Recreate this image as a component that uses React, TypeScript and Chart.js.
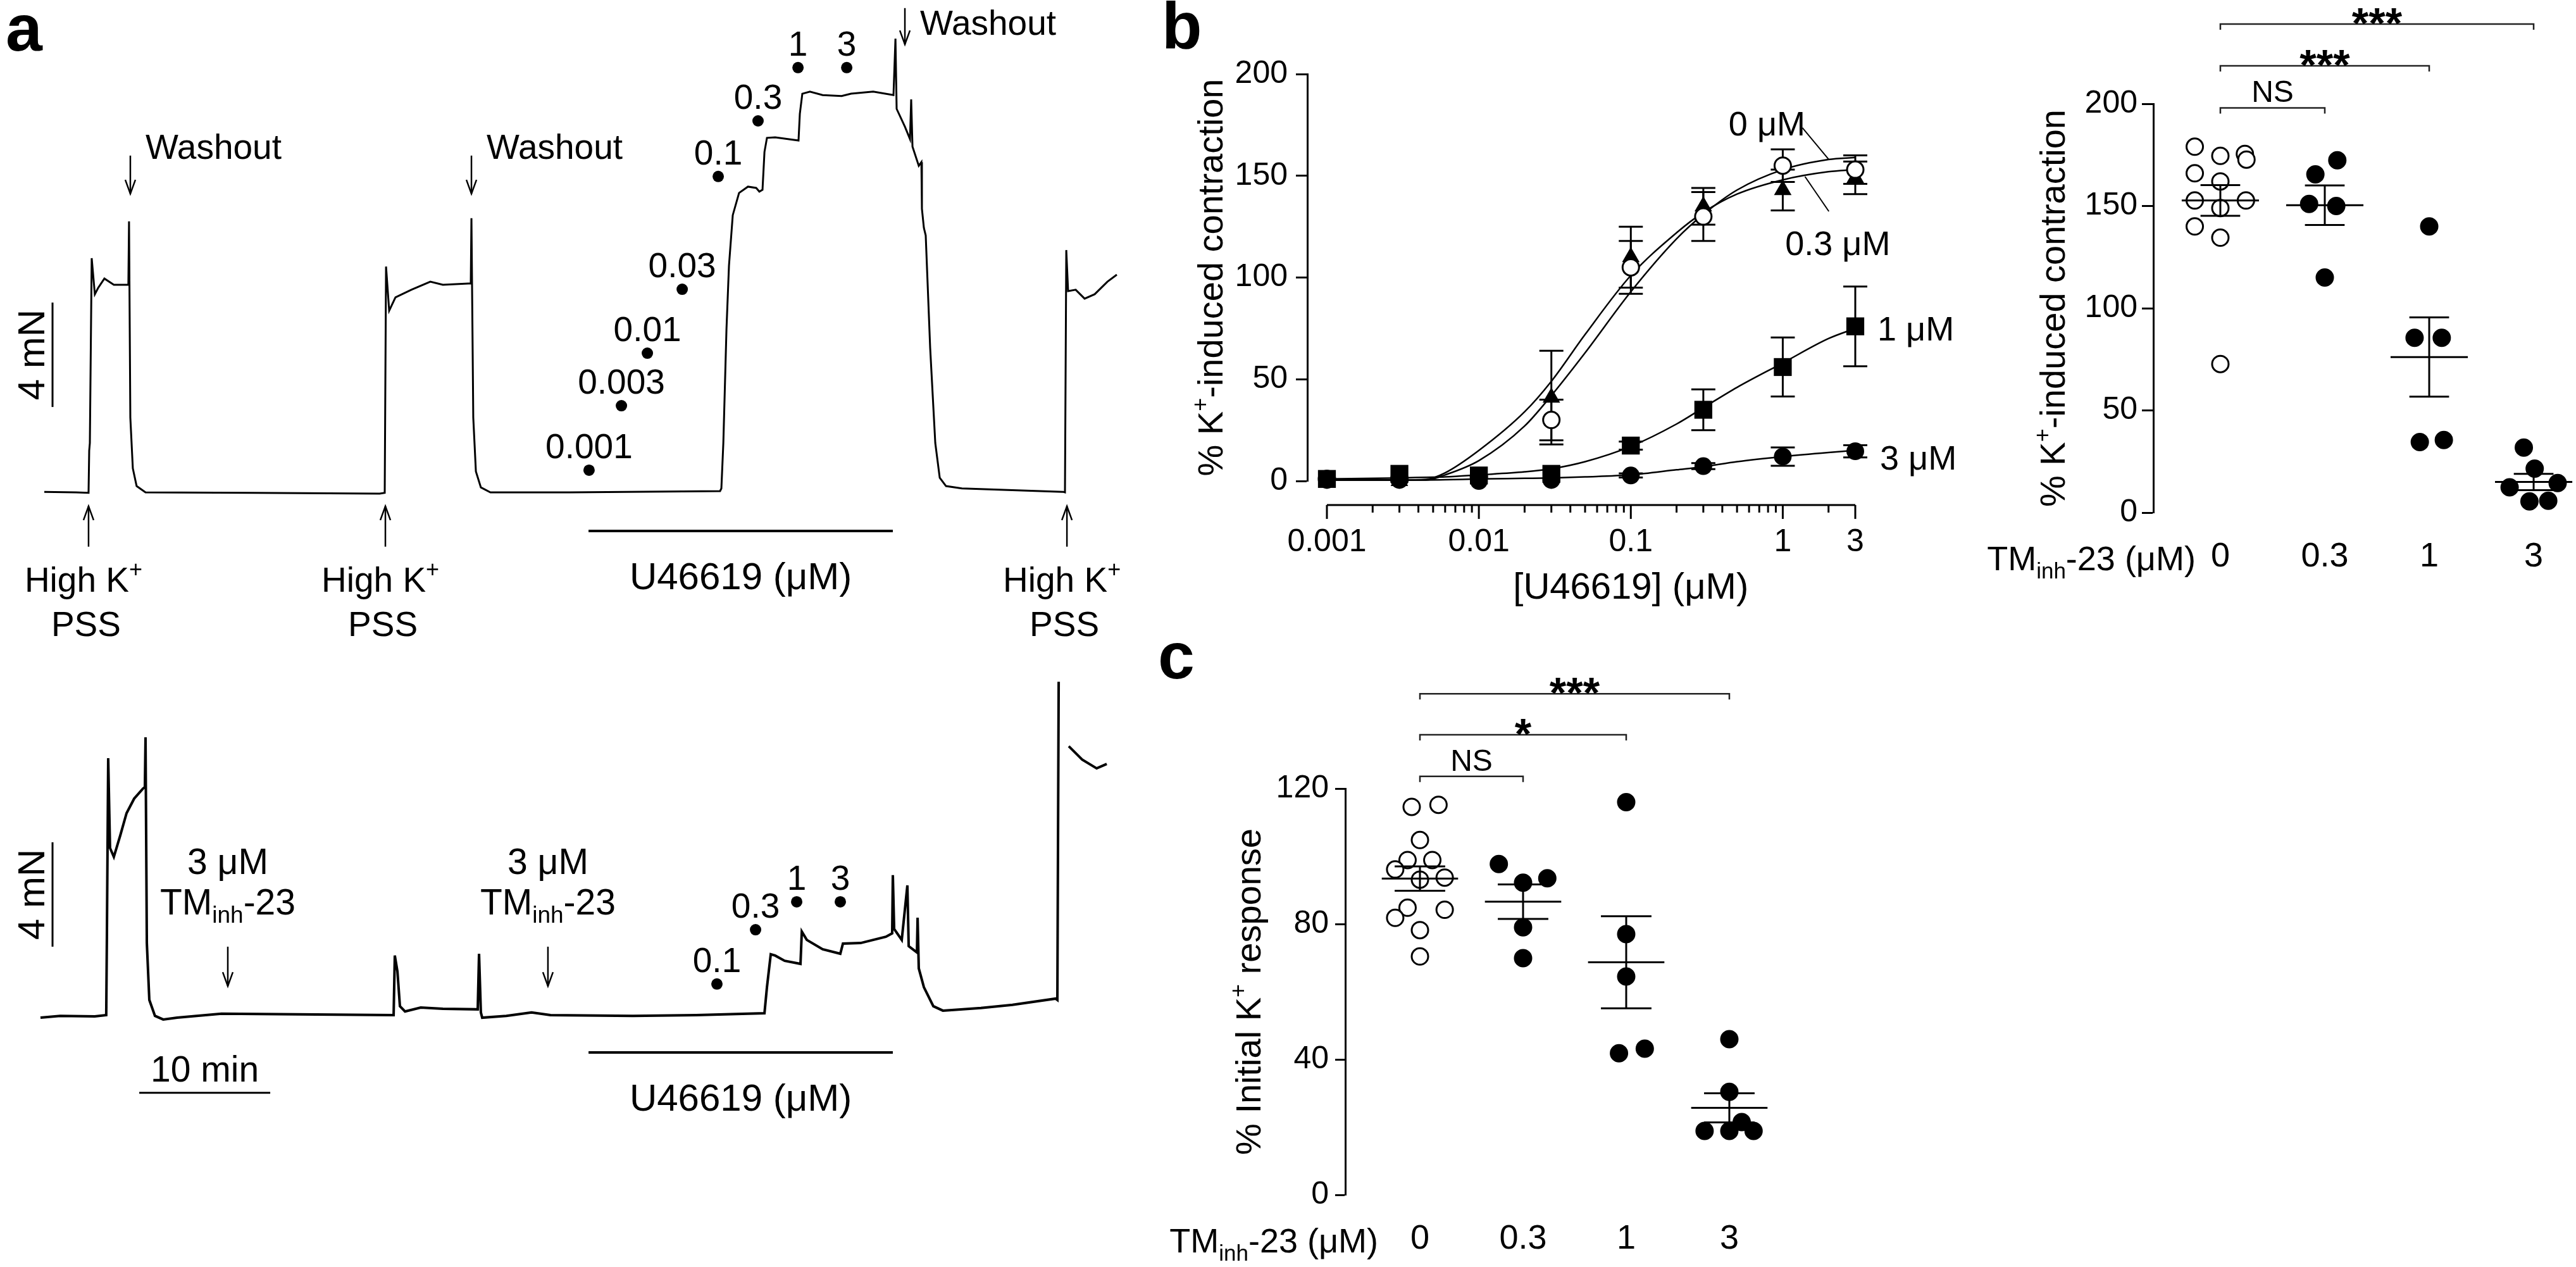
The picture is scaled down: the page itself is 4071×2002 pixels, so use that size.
import React, { useEffect, useRef } from 'react';
import { Chart, registerables } from 'chart.js';

Chart.register(...registerables);

const FONT = '"Liberation Sans", Arial, Helvetica, sans-serif';
const BLACK = '#000000';

/* ================= Panel a : tension traces (time in min, tension in mN) ================= */
const TRACE1_TIME = [0.29, 2.71, 3.67, 3.72, 3.77, 3.91, 4.15, 4.40, 4.88, 5.60, 6.71, 6.76, 6.86, 7.05, 7.34, 8.02, 16.23, 25.89, 26.28, 26.38, 26.62, 27.10, 28.31, 29.76, 30.72, 32.66, 32.85, 32.90, 33.04, 33.24, 33.62, 34.35, 40.39, 51.88, 51.98, 52.13, 52.37, 52.56, 52.85, 53.33, 54.01, 54.64, 54.88, 55.12, 55.27, 55.46, 56.09, 57.87, 57.97, 58.16, 58.74, 59.71, 61.16, 61.88, 63.57, 65.12, 65.27, 65.36, 65.99, 66.38, 66.47, 66.57, 67.05, 67.25, 67.29, 67.44, 67.58, 67.92, 68.31, 68.65, 69.13, 70.34, 78.07, 78.21, 78.31, 78.45, 79.03, 79.71, 80.48, 81.45, 82.17];
const TRACE1_MN = [0.02, 0, -0.02, 1.6, 1.89, 8.97, 7.59, 7.83, 8.19, 7.95, 7.95, 10.38, 2.86, 0.92, 0.24, 0, -0.02, -0.05, -0.02, 8.65, 6.96, 7.47, 7.76, 8.07, 7.95, 8.0, 8.0, 10.5, 2.86, 0.8, 0.19, 0, 0, 0.05, 0.15, 1.89, 6.26, 8.68, 10.62, 11.47, 11.71, 11.66, 11.52, 11.59, 13.04, 13.58, 13.6, 13.48, 14.5, 15.27, 15.35, 15.22, 15.18, 15.27, 15.35, 15.22, 17.38, 14.69, 14.01, 13.53, 15.05, 13.24, 12.51, 12.65, 10.86, 10.13, 9.84, 5.53, 1.89, 0.56, 0.24, 0.15, 0.02, 0, 9.28, 7.71, 7.76, 7.42, 7.59, 8.07, 8.34];
const DOSE1_LABELS = ['0.001', '0.003', '0.01', '0.03', '0.1', '0.3', '1', '3'];
const DOSE1_TIME = [41.88, 44.35, 46.33, 48.99, 51.74, 54.78, 57.83, 61.55];
const DOSE1_MN = [0.85, 3.32, 5.33, 7.78, 12.1, 14.23, 16.27, 16.27];

const TRACE2_TIME = [0, 1.5, 4.15, 5.02, 5.07, 5.17, 5.31, 5.6, 6.09, 6.57, 7.15, 7.83, 7.97, 8.02, 8.12, 8.31, 8.74, 9.37, 10.43, 13.82, 21.06, 26.96, 27.05, 27.25, 27.44, 27.83, 29.03, 30.72, 33.38, 33.48, 33.62, 33.72, 35.56, 37.49, 38.94, 45.22, 50.05, 55.27, 55.46, 55.75, 56.09, 56.81, 58.02, 58.12, 58.5, 59.71, 61.06, 61.26, 62.61, 64.54, 65.02, 65.07, 65.17, 65.75, 66.18, 66.28, 66.91, 66.96, 67.05, 67.44, 68.16, 68.89, 71.79, 74.2, 77.49, 77.63, 77.73, 78.1, 78.5, 79.52, 80.63, 81.4];
const TRACE2_MN = [-0.05, 0.02, 0, 0.05, 3.05, 9.89, 6.45, 6.11, 6.93, 7.78, 8.34, 8.73, 8.78, 10.69, 2.81, 0.63, 0.02, -0.12, -0.05, 0.1, 0.07, 0.05, 2.33, 1.72, 0.39, 0.19, 0.34, 0.29, 0.27, 2.4, 0.15, -0.05, 0.02, 0.15, 0.05, 0.02, 0.05, 0.12, 1.12, 2.38, 2.33, 2.13, 2.01, 3.25, 2.93, 2.57, 2.4, 2.79, 2.81, 3.05, 3.18, 5.41, 3.35, 2.93, 5.02, 2.69, 2.45, 3.78, 1.84, 1.12, 0.39, 0.22, 0.32, 0.44, 0.68, 0.63, 12.82, null, 10.35, 9.84, 9.5, 9.67];
const DOSE2_LABELS = ['0.1', '0.3', '1', '3'];
const DOSE2_TIME = [51.64, 54.59, 57.73, 61.06];
const DOSE2_MN = [1.24, 3.32, 4.39, 4.39];

const HIGHK_TIME = [3.67, 26.33, 78.36];
const WASHOUT_TIME = [6.86, 32.9, 65.99];
const TM_ADD_TIME = [14.3, 38.74];
const U46619_START = 41.84;
const U46619_END = 65.07;
const SCALE_MN = 4;
const SCALE_MIN = 10;

/* ================= Panel b (left): concentration–response ================= */
const B_CONC = [0.001, 0.003, 0.01, 0.03, 0.1, 0.3, 1, 3];
const B_TICKS = [0.001, 0.01, 0.1, 1, 3];
const B_TICK_LABELS = ['0.001', '0.01', '0.1', '1', '3'];
const B_MEAN_0 = [1, 1, 2, 30, 105, 130, 155, 153];
const B_SEM_0 = [0, 0, 0, 10, 13, 12, 8, 7];
const B_MEAN_03 = [0, 0, 1, 41, 110, 135, 143, 149];
const B_SEM_03 = [0, 0, 0, 23, 15, 9, 10, 8];
const B_MEAN_1 = [1, 3.5, 2.7, 3.5, 17.4, 35, 56, 76];
const B_SEM_1 = [0, 0, 0, 0, 2, 10, 14.5, 19.6];
const B_MEAN_3 = [0.5, 0.5, 0, 0.5, 2.7, 7.3, 12, 14.6];
const B_SEM_3 = [0, 0, 0, 0, 1, 1.5, 4.5, 3];
const FIT_X = [0.001, 0.003, 0.0045, 0.006, 0.01, 0.02, 0.03, 0.05, 0.1, 0.2, 0.3, 0.5, 1, 2, 3];
const FIT_0 = [0.5, 0.5, 0.5, 3, 10, 27, 42, 63, 93, 119, 131, 143, 153, 158, 159];
const FIT_03 = [0.5, 0.5, 0.8, 4, 15, 34, 49, 72, 101, 122, 132, 141, 148, 152, 153];
const FIT_1 = [1, 1.5, 1.8, 2, 3, 4.5, 6, 9.5, 17, 28, 36, 46, 58, 70, 75];
const FIT_3 = [0.5, 0.5, 0.5, 0.6, 1, 1.3, 1.5, 2, 3, 5.5, 7, 9.5, 12, 14, 15];

/* ================= Panel b (right) and c : individual vessels ================= */
const TM_DOSES = ['0', '0.3', '1', '3'];
const B2_VALUES = [
  [179, 174.5, 175.5, 172.7, 166, 162, 152.7, 149, 152.7, 140, 134.5, 72.7],
  [165.5, 172.4, 151, 150, 115],
  [140, 85.5, 85.5, 34.5, 35.5],
  [31.8, 21.5, 12.4, 14.5, 5.5, 5.8],
];
const B2_JITTER = [
  [-0.245, 0, 0.235, 0.25, -0.245, 0, -0.245, 0, 0.245, -0.245, 0, 0],
  [-0.09, 0.12, -0.15, 0.11, 0],
  [0, -0.14, 0.12, -0.09, 0.14],
  [-0.094, 0.01, -0.23, 0.23, -0.04, 0.14],
];
const B2_MEAN = [152.7, 150.4, 76.1, 15];
const B2_SEM = [7.5, 9.7, 19.4, 4];
const B2_BRACKETS = [
  { from: 0, to: 1, y: 198, label: 'NS' },
  { from: 0, to: 2, y: 218.6, label: '***' },
  { from: 0, to: 3, y: 239, label: '***' },
];

const C_VALUES = [
  [114.6, 115.2, 104.8, 98.9, 98.9, 96.1, 93.1, 93.7, 84.8, 84.2, 81.8, 78.2, 70.4],
  [97.7, 92.2, 93.5, 79, 69.9],
  [116, 77, 64.5, 41.8, 43.2],
  [46, 30.4, 18.9, 18.9, 21.5, 18.9],
];
const C_JITTER = [
  [-0.08, 0.18, 0, -0.12, 0.12, -0.24, 0, 0.24, -0.12, 0.24, -0.24, 0, 0],
  [-0.235, 0, 0.235, 0, 0],
  [0, 0, 0, -0.07, 0.18],
  [0, 0, -0.24, 0, 0.12, 0.235],
];
const C_MEAN = [93.4, 86.6, 68.7, 25.7];
const C_SEM = [3.6, 5.1, 13.6, 4.3];
const C_BRACKETS = [
  { from: 0, to: 1, y: 123.6, label: 'NS' },
  { from: 0, to: 2, y: 135.9, label: '*' },
  { from: 0, to: 3, y: 148, label: '***' },
];

/* ================= drawing helpers ================= */
type Seg = { t: string; v?: 'sup' | 'sub' };
function segFont(fs: number, v?: string) {
  return `normal ${v ? Math.round(fs * 0.65) : fs}px ${FONT}`;
}
function drawRich(ctx: CanvasRenderingContext2D, segs: Seg[], x: number, y: number, fs: number, align = 'center', rotate = false) {
  ctx.save();
  ctx.translate(x, y);
  if (rotate) ctx.rotate(-Math.PI / 2);
  let w = 0;
  for (const s of segs) { ctx.font = segFont(fs, s.v); w += ctx.measureText(s.t).width; }
  let cx = align === 'center' ? -w / 2 : align === 'right' ? -w : 0;
  ctx.textAlign = 'left';
  ctx.textBaseline = 'alphabetic';
  ctx.fillStyle = BLACK;
  const base = fs * 0.36;
  for (const s of segs) {
    ctx.font = segFont(fs, s.v);
    const dy = s.v === 'sup' ? -fs * 0.42 : s.v === 'sub' ? fs * 0.24 : 0;
    ctx.fillText(s.t, cx, base + dy);
    cx += ctx.measureText(s.t).width;
  }
  ctx.restore();
}
function line(ctx: CanvasRenderingContext2D, x0: number, y0: number, x1: number, y1: number) {
  ctx.beginPath(); ctx.moveTo(x0, y0); ctx.lineTo(x1, y1); ctx.stroke();
}
function arrowV(ctx: CanvasRenderingContext2D, x: number, yFrom: number, yTip: number) {
  line(ctx, x, yFrom, x, yTip);
  const d = yTip > yFrom ? -1 : 1;
  ctx.beginPath(); ctx.moveTo(x - 8, yTip + d * 22); ctx.lineTo(x, yTip); ctx.lineTo(x + 8, yTip + d * 22); ctx.stroke();
}
function mappers(chart: any) {
  const xs = chart.scales.x, ys = chart.scales.y;
  return [(v: number) => xs.getPixelForValue(v), (v: number) => ys.getPixelForValue(v)];
}

const BASE_OPTS = {
  animation: false,
  responsive: false,
  devicePixelRatio: 1,
  events: [],
  plugins: { legend: { display: false }, tooltip: { enabled: false } },
};

/* ================= Panel a configs ================= */
const A_FS = 55;
const A_X = { min: -3.09, max: 85.31 };

function traceConfig(times: number[], values: (number | null)[], dT: number[], dV: number[], yMin: number, yMax: number, width: number, plugin: any) {
  return {
    type: 'scatter',
    data: {
      datasets: [
        { data: dT.map((t, i) => ({ x: t, y: dV[i] })), pointRadius: 9, pointBackgroundColor: BLACK, pointBorderWidth: 0, showLine: false, order: 0 },
        { data: times.map((t, i) => ({ x: t, y: values[i] })), showLine: true, borderColor: BLACK, borderWidth: width, pointRadius: 0, tension: 0, spanGaps: false, order: 1 },
      ],
    },
    options: {
      ...BASE_OPTS,
      layout: { padding: 0, autoPadding: false },
      scales: {
        x: { type: 'linear', display: false, min: A_X.min, max: A_X.max },
        y: { type: 'linear', display: false, min: yMin, max: yMax },
      },
    },
    plugins: [plugin],
  };
}

const aTopPlugin = {
  id: 'aTop',
  afterDatasetsDraw(chart: any) {
    const ctx = chart.ctx; const [X, Y] = mappers(chart);
    ctx.save(); ctx.strokeStyle = BLACK; ctx.lineWidth = 2.5;
    DOSE1_LABELS.forEach((l, i) => drawRich(ctx, [{ t: l }], X(DOSE1_TIME[i]), Y(DOSE1_MN[i]) - 39, A_FS));
    const wl = [{ from: 12.9, tip: 11.44, text: 13.26 }, { from: 12.9, tip: 11.44, text: 13.26 }, { from: 18.55, tip: 17.16, text: 18.0 }];
    WASHOUT_TIME.forEach((t, i) => {
      arrowV(ctx, X(t), Y(wl[i].from), Y(wl[i].tip));
      drawRich(ctx, [{ t: 'Washout' }], X(t) + 24, Y(wl[i].text), A_FS, 'left');
    });
    HIGHK_TIME.forEach((t) => {
      arrowV(ctx, X(t), Y(-2.08), Y(-0.53));
      drawRich(ctx, [{ t: 'High K' }, { t: '+', v: 'sup' }], X(t) - 8, Y(-3.32), A_FS);
      drawRich(ctx, [{ t: 'PSS' }], X(t) - 4, Y(-5.02), A_FS);
    });
    ctx.lineWidth = 4;
    line(ctx, X(U46619_START), Y(-1.48), X(U46619_END), Y(-1.48));
    drawRich(ctx, [{ t: 'U46619 (μM)' }], X((U46619_START + U46619_END) / 2), Y(-3.18), 60);
    ctx.lineWidth = 3;
    line(ctx, X(0.92), Y(3.27), X(0.92), Y(3.27 + SCALE_MN));
    drawRich(ctx, [{ t: '4 mN' }], X(0.92) - 35, Y(3.27 + SCALE_MN / 2), 60, 'center', true);
    ctx.restore();
  },
};

const aBottomPlugin = {
  id: 'aBottom',
  afterDatasetsDraw(chart: any) {
    const ctx = chart.ctx; const [X, Y] = mappers(chart);
    ctx.save(); ctx.strokeStyle = BLACK; ctx.lineWidth = 2.5;
    DOSE2_LABELS.forEach((l, i) => drawRich(ctx, [{ t: l }], X(DOSE2_TIME[i]), Y(DOSE2_MN[i]) - 39, A_FS));
    TM_ADD_TIME.forEach((t) => {
      drawRich(ctx, [{ t: '3 μM' }], X(t), Y(5.96), 57);
      drawRich(ctx, [{ t: 'TM' }, { t: 'inh', v: 'sub' }, { t: '-23' }], X(t), Y(4.41), 57);
      arrowV(ctx, X(t), Y(2.67), Y(1.16));
    });
    ctx.lineWidth = 4;
    line(ctx, X(U46619_START), Y(-1.38), X(U46619_END), Y(-1.38));
    drawRich(ctx, [{ t: 'U46619 (μM)' }], X((U46619_START + U46619_END) / 2), Y(-3.08), 60);
    ctx.lineWidth = 3;
    line(ctx, X(0.92), Y(2.67), X(0.92), Y(2.67 + SCALE_MN));
    drawRich(ctx, [{ t: '4 mN' }], X(0.92) - 35, Y(2.67 + SCALE_MN / 2), 60, 'center', true);
    line(ctx, X(7.54), Y(-2.93), X(7.54 + SCALE_MIN), Y(-2.93));
    drawRich(ctx, [{ t: '10 min' }], X(7.54 + SCALE_MIN / 2), Y(-2.01), 57);
    ctx.restore();
  },
};

/* ================= Panel b (left) config ================= */
const B_SERIES = [
  { mean: B_MEAN_0, sem: B_SEM_0 },
  { mean: B_MEAN_03, sem: B_SEM_03 },
  { mean: B_MEAN_1, sem: B_SEM_1 },
  { mean: B_MEAN_3, sem: B_SEM_3 },
];
const B_X_AXIS_AT = -11.8;

const bLeftPlugin = {
  id: 'bLeft',
  beforeDatasetsDraw(chart: any) {
    const ctx = chart.ctx; const [X, Y] = mappers(chart);
    ctx.save(); ctx.strokeStyle = BLACK; ctx.lineWidth = 3;
    B_SERIES.forEach((s) => s.mean.forEach((m, i) => {
      const e = s.sem[i]; if (!e) return;
      const x = X(B_CONC[i]); const y0 = Y(m - e), y1 = Y(m + e);
      line(ctx, x, y0, x, y1); line(ctx, x - 19, y0, x + 19, y0); line(ctx, x - 19, y1, x + 19, y1);
    }));
    ctx.restore();
  },
  afterDatasetsDraw(chart: any) {
    const ctx = chart.ctx; const [X, Y] = mappers(chart); const ca = chart.chartArea;
    ctx.save(); ctx.strokeStyle = BLACK; ctx.lineWidth = 3;
    const ay = Y(B_X_AXIS_AT);
    line(ctx, X(0.001), ay, X(3), ay);
    B_TICKS.forEach((v) => line(ctx, X(v), ay, X(v), ay + 22));
    for (const dec of [0.001, 0.01, 0.1, 1]) {
      for (let k = 2; k <= 9; k++) { const v = dec * k; if (v < 3) line(ctx, X(v), ay, X(v), ay + 12); }
    }
    drawRich(ctx, [{ t: '% K' }, { t: '+', v: 'sup' }, { t: '-induced contraction' }], ca.left - 154, (ca.top + ca.bottom) / 2, 56, 'center', true);
    drawRich(ctx, [{ t: '[U46619] (μM)' }], X(0.1), ay + 127, 58);
    ctx.lineWidth = 2;
    line(ctx, X(1.346), Y(173.6), X(2.01), Y(158));
    line(ctx, X(1.4), Y(149.6), X(2.01), Y(132.5));
    drawRich(ctx, [{ t: '0 μM' }], X(0.787), Y(176), 54);
    drawRich(ctx, [{ t: '0.3 μM' }], X(2.3), Y(117), 54);
    drawRich(ctx, [{ t: '1 μM' }], X(3) + 35, Y(75), 54, 'left');
    drawRich(ctx, [{ t: '3 μM' }], X(3) + 39, Y(11.8), 54, 'left');
    ctx.restore();
  },
};

function bLeftConfig() {
  const mk = (ys: number[]) => B_CONC.map((c, i) => ({ x: c, y: ys[i] }));
  const fit = (ys: number[]) => FIT_X.map((c, i) => ({ x: c, y: ys[i] }));
  const curve = (ys: number[]) => ({ data: fit(ys), showLine: true, borderColor: BLACK, borderWidth: 2.5, pointRadius: 0, cubicInterpolationMode: 'monotone', order: 10, clip: false });
  return {
    type: 'scatter',
    data: {
      datasets: [
        { data: mk(B_MEAN_1), pointStyle: 'rect', pointRadius: 20, pointBackgroundColor: BLACK, pointBorderColor: BLACK, pointBorderWidth: 0, order: 0, clip: false },
        { data: mk(B_MEAN_3), pointStyle: 'circle', pointRadius: 14, pointBackgroundColor: BLACK, pointBorderColor: BLACK, pointBorderWidth: 0, order: 1, clip: false },
        { data: mk(B_MEAN_0), pointStyle: 'circle', pointRadius: 13, pointBackgroundColor: '#ffffff', pointBorderColor: BLACK, pointBorderWidth: 3, order: 2, clip: false },
        { data: mk(B_MEAN_03), pointStyle: 'triangle', pointRadius: 16, pointBackgroundColor: BLACK, pointBorderColor: BLACK, pointBorderWidth: 0, order: 3, clip: false },
        curve(FIT_0), curve(FIT_03), curve(FIT_1), curve(FIT_3),
      ],
    },
    options: {
      ...BASE_OPTS,
      layout: { padding: { left: 0, top: 117, right: 168, bottom: 0 }, autoPadding: false },
      scales: {
        x: {
          type: 'logarithmic', min: 0.000743, max: 3,
          grid: { display: false, drawTicks: false }, border: { display: false },
          afterBuildTicks: (s: any) => { s.ticks = B_TICKS.map((v) => ({ value: v })); },
          afterFit: (s: any) => { s.height = 240; },
          ticks: { autoSkip: false, maxRotation: 0, minRotation: 0, padding: 67, color: BLACK, font: { family: FONT, size: 50 }, callback: (_v: any, i: number) => B_TICK_LABELS[i] },
        },
        y: {
          type: 'linear', min: 0, max: 200,
          grid: { display: true, drawOnChartArea: false, drawTicks: true, tickLength: 18, tickWidth: 3, tickColor: BLACK },
          border: { display: true, color: BLACK, width: 3 },
          afterBuildTicks: (s: any) => { s.ticks = [0, 50, 100, 150, 200].map((v) => ({ value: v })); },
          afterFit: (s: any) => { s.width = 186; },
          ticks: { padding: 13, color: BLACK, font: { family: FONT, size: 50 } },
        },
      },
    },
    plugins: [bLeftPlugin],
  };
}

/* ================= dot plots (b right, c) ================= */
function dotPlotConfig(p: any) {
  const datasets = p.values.map((vals: number[], g: number) => ({
    data: vals.map((v, i) => ({ x: g + p.jitter[g][i], y: v })),
    pointStyle: 'circle', pointRadius: 13, pointBorderWidth: 3,
    pointBackgroundColor: g === 0 ? '#ffffff' : BLACK, pointBorderColor: BLACK,
    showLine: false, clip: false,
  }));
  const plugin = {
    id: 'dot' + p.id,
    afterDatasetsDraw(chart: any) {
      const ctx = chart.ctx; const [X, Y] = mappers(chart); const ca = chart.chartArea;
      ctx.save(); ctx.strokeStyle = BLACK; ctx.lineWidth = 3;
      p.mean.forEach((m: number, g: number) => {
        const e = p.sem[g];
        line(ctx, X(g - 0.37), Y(m), X(g + 0.37), Y(m));
        line(ctx, X(g), Y(m - e), X(g), Y(m + e));
        line(ctx, X(g - p.cap), Y(m - e), X(g + p.cap), Y(m - e));
        line(ctx, X(g - p.cap), Y(m + e), X(g + p.cap), Y(m + e));
      });
      ctx.lineWidth = 2.5; ctx.strokeStyle = '#222222';
      p.brackets.forEach((b: any) => {
        const y = Y(b.y); const x0 = X(b.from), x1 = X(b.to);
        ctx.beginPath(); ctx.moveTo(x0, y + 9); ctx.lineTo(x0, y); ctx.lineTo(x1, y); ctx.lineTo(x1, y + 9); ctx.stroke();
        ctx.fillStyle = BLACK; ctx.textAlign = 'center'; ctx.textBaseline = 'alphabetic';
        if (b.label === 'NS') { ctx.font = `48px ${FONT}`; ctx.fillText('NS', (x0 + x1) / 2, y - 9); }
        else { ctx.font = `bold 68px ${FONT}`; ctx.fillText(b.label, (x0 + x1) / 2, y + 22); }
      });
      drawRich(ctx, p.title, ca.left - p.titleOffset, (ca.top + ca.bottom) / 2, 56, 'center', true);
      drawRich(ctx, [{ t: 'TM' }, { t: 'inh', v: 'sub' }, { t: '-23 (μM)' }], X(0) - p.catTitleGap, ca.bottom + 72, 54, 'right');
      ctx.restore();
    },
  };
  return {
    type: 'scatter',
    data: { datasets },
    options: {
      ...BASE_OPTS,
      layout: { padding: { left: 0, top: p.padTop, right: p.padRight, bottom: 0 }, autoPadding: false },
      scales: {
        x: {
          type: 'linear', min: p.xMin, max: p.xMax,
          grid: { display: false, drawTicks: false }, border: { display: false },
          afterBuildTicks: (s: any) => { s.ticks = TM_DOSES.map((_d, i) => ({ value: i })); },
          afterFit: (s: any) => { s.height = p.xHeight; },
          ticks: { autoSkip: false, maxRotation: 0, minRotation: 0, padding: 38, color: BLACK, font: { family: FONT, size: 54 }, callback: (_v: any, i: number) => TM_DOSES[i] },
        },
        y: {
          type: 'linear', min: 0, max: p.yMax,
          grid: { display: true, drawOnChartArea: false, drawTicks: true, tickLength: p.tickLen, tickWidth: 3, tickColor: BLACK },
          border: { display: true, color: BLACK, width: 3 },
          afterBuildTicks: (s: any) => { s.ticks = p.yTicks.map((v: number) => ({ value: v })); },
          afterFit: (s: any) => { s.width = p.yWidth; },
          ticks: { padding: p.tickPad, color: BLACK, font: { family: FONT, size: 50 } },
        },
      },
    },
    plugins: [plugin],
  };
}

const bRightConfig = () => dotPlotConfig({
  id: 'B', values: B2_VALUES, jitter: B2_JITTER, mean: B2_MEAN, sem: B2_SEM, brackets: B2_BRACKETS,
  cap: 0.19, yMax: 200, yTicks: [0, 50, 100, 150, 200], padTop: 164, padRight: 11, yWidth: 303, xHeight: 190,
  xMin: -0.642, xMax: 3.339, tickLen: 18, tickPad: 7, titleOffset: 160, catTitleGap: 39,
  title: [{ t: '% K' }, { t: '+', v: 'sup' }, { t: '-induced contraction' }],
});
const cConfig = () => dotPlotConfig({
  id: 'C', values: C_VALUES, jitter: C_JITTER, mean: C_MEAN, sem: C_SEM, brackets: C_BRACKETS,
  cap: 0.245, yMax: 120, yTicks: [0, 40, 80, 120], padTop: 246, padRight: 30, yWidth: 306, xHeight: 114,
  xMin: -0.724, xMax: 3.718, tickLen: 16, tickPad: 10, titleOffset: 154, catTitleGap: 66,
  title: [{ t: '% Initial K' }, { t: '+', v: 'sup' }, { t: ' response' }],
});

/* ================= components ================= */
function ChartBox({ left, top, width, height, make }: { left: number; top: number; width: number; height: number; make: () => any }) {
  const ref = useRef<HTMLCanvasElement>(null);
  useEffect(() => {
    const chart = new Chart(ref.current as HTMLCanvasElement, make());
    return () => chart.destroy();
  }, []);
  return <canvas ref={ref} width={width} height={height} style={{ position: 'absolute', left, top, width, height }} />;
}

const letterStyle = (left: number, top: number): React.CSSProperties => ({
  position: 'absolute', left, top, font: `bold 104px ${FONT}`, lineHeight: '104px', color: BLACK,
});

export default function App() {
  useEffect(() => {
    document.body.style.margin = '0';
    document.body.style.overflow = 'hidden';
  }, []);
  return (
    <div style={{ position: 'absolute', left: 0, top: 0, width: 4071, height: 2002, background: '#ffffff', overflow: 'hidden' }}>
      <ChartBox left={0} top={0} width={1830} height={1020}
        make={() => traceConfig(TRACE1_TIME, TRACE1_MN, DOSE1_TIME, DOSE1_MN, -5.867, 18.86, 3, aTopPlugin)} />
      <ChartBox left={0} top={1020} width={1830} height={982}
        make={() => traceConfig(TRACE2_TIME, TRACE2_MN, DOSE2_TIME, DOSE2_MN, -9.6, 14.206, 4, aBottomPlugin)} />
      <ChartBox left={1880} top={0} width={1220} height={1000} make={bLeftConfig} />
      <ChartBox left={3100} top={0} width={971} height={1000} make={bRightConfig} />
      <ChartBox left={1820} top={1000} width={1060} height={1002} make={cConfig} />
      <div style={letterStyle(9, -8)}>a</div>
      <div style={letterStyle(1836, -12)}>b</div>
      <div style={letterStyle(1830, 984)}>c</div>
    </div>
  );
}
